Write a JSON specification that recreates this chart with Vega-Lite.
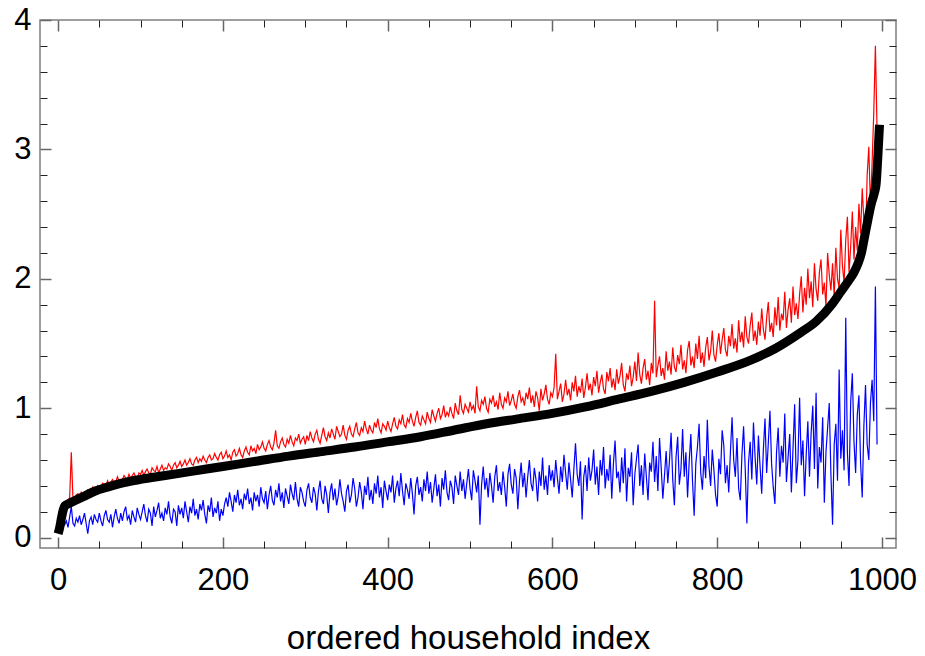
{
  "$schema": "https://vega.github.io/schema/vega-lite/v6.json",
  "width": 856,
  "height": 528,
  "autosize": "none",
  "padding": {"left": 40, "top": 20, "right": 29, "bottom": 108},
  "background": "white",
  "config": {
    "font": "Liberation Sans",
    "view": {"stroke": "#7f7f7f", "strokeWidth": 1.5}
  },
  "datasets": {
    "households": [
      {"i":0,"r":0.05,"b":0.06},{"i":2,"r":0.11,"b":0.11},{"i":4,"r":0.17,"b":0.09},{"i":6,"r":0.24,"b":0.14},{"i":8,"r":0.27,"b":0.10},
      {"i":10,"r":0.26,"b":0.13},{"i":12,"r":0.29,"b":0.08},{"i":14,"r":0.31,"b":0.16},{"i":16,"r":0.66,"b":0.24},{"i":18,"r":0.30,"b":0.11},
      {"i":20,"r":0.29,"b":0.09},{"i":22,"r":0.33,"b":0.15},{"i":24,"r":0.34,"b":0.12},{"i":26,"r":0.30,"b":0.17},{"i":28,"r":0.35,"b":0.10},
      {"i":30,"r":0.33,"b":0.14},{"i":32,"r":0.32,"b":0.19},{"i":34,"r":0.36,"b":0.11},{"i":36,"r":0.37,"b":0.03},{"i":38,"r":0.34,"b":0.13},
      {"i":40,"r":0.35,"b":0.16},{"i":42,"r":0.39,"b":0.10},{"i":44,"r":0.36,"b":0.18},{"i":46,"r":0.37,"b":0.14},{"i":48,"r":0.40,"b":0.12},
      {"i":50,"r":0.38,"b":0.19},{"i":52,"r":0.39,"b":0.13},{"i":54,"r":0.42,"b":0.09},{"i":56,"r":0.41,"b":0.17},{"i":58,"r":0.40,"b":0.21},
      {"i":60,"r":0.44,"b":0.14},{"i":62,"r":0.41,"b":0.12},{"i":64,"r":0.43,"b":0.18},{"i":66,"r":0.45,"b":0.08},{"i":68,"r":0.42,"b":0.16},
      {"i":70,"r":0.43,"b":0.22},{"i":72,"r":0.47,"b":0.15},{"i":74,"r":0.44,"b":0.11},{"i":76,"r":0.43,"b":0.19},{"i":78,"r":0.45,"b":0.13},
      {"i":80,"r":0.48,"b":0.20},{"i":82,"r":0.46,"b":0.24},{"i":84,"r":0.45,"b":0.14},{"i":86,"r":0.49,"b":0.17},{"i":88,"r":0.46,"b":0.10},
      {"i":90,"r":0.48,"b":0.21},{"i":92,"r":0.50,"b":0.16},{"i":94,"r":0.47,"b":0.12},{"i":96,"r":0.46,"b":0.23},{"i":98,"r":0.50,"b":0.18},
      {"i":100,"r":0.49,"b":0.14},{"i":102,"r":0.52,"b":0.20},{"i":104,"r":0.48,"b":0.26},{"i":106,"r":0.51,"b":0.17},{"i":108,"r":0.53,"b":0.12},
      {"i":110,"r":0.50,"b":0.22},{"i":112,"r":0.49,"b":0.19},{"i":114,"r":0.54,"b":0.09},{"i":116,"r":0.52,"b":0.24},{"i":118,"r":0.51,"b":0.16},
      {"i":120,"r":0.55,"b":0.21},{"i":122,"r":0.50,"b":0.27},{"i":124,"r":0.53,"b":0.15},{"i":126,"r":0.56,"b":0.19},{"i":128,"r":0.52,"b":0.13},
      {"i":130,"r":0.54,"b":0.23},{"i":132,"r":0.53,"b":0.18},{"i":134,"r":0.57,"b":0.28},{"i":136,"r":0.55,"b":0.16},{"i":138,"r":0.52,"b":0.11},
      {"i":140,"r":0.56,"b":0.22},{"i":142,"r":0.58,"b":0.20},{"i":144,"r":0.54,"b":0.09},{"i":146,"r":0.56,"b":0.25},{"i":148,"r":0.59,"b":0.18},
      {"i":150,"r":0.55,"b":0.23},{"i":152,"r":0.57,"b":0.15},{"i":154,"r":0.60,"b":0.28},{"i":156,"r":0.56,"b":0.20},{"i":158,"r":0.58,"b":0.12},
      {"i":160,"r":0.61,"b":0.24},{"i":162,"r":0.57,"b":0.19},{"i":164,"r":0.56,"b":0.30},{"i":166,"r":0.60,"b":0.17},{"i":168,"r":0.62,"b":0.22},
      {"i":170,"r":0.58,"b":0.14},{"i":172,"r":0.61,"b":0.26},{"i":174,"r":0.59,"b":0.21},{"i":176,"r":0.63,"b":0.29},{"i":178,"r":0.60,"b":0.18},
      {"i":180,"r":0.58,"b":0.11},{"i":182,"r":0.62,"b":0.25},{"i":184,"r":0.64,"b":0.20},{"i":186,"r":0.60,"b":0.31},{"i":188,"r":0.61,"b":0.16},
      {"i":190,"r":0.65,"b":0.23},{"i":192,"r":0.62,"b":0.19},{"i":194,"r":0.60,"b":0.28},{"i":196,"r":0.64,"b":0.13},{"i":198,"r":0.66,"b":0.22},
      {"i":200,"r":0.61,"b":0.17},{"i":202,"r":0.63,"b":0.26},{"i":204,"r":0.67,"b":0.31},{"i":206,"r":0.62,"b":0.24},{"i":208,"r":0.64,"b":0.35},
      {"i":210,"r":0.60,"b":0.28},{"i":212,"r":0.66,"b":0.20},{"i":214,"r":0.68,"b":0.33},{"i":216,"r":0.63,"b":0.27},{"i":218,"r":0.65,"b":0.37},
      {"i":220,"r":0.69,"b":0.25},{"i":222,"r":0.64,"b":0.30},{"i":224,"r":0.62,"b":0.22},{"i":226,"r":0.67,"b":0.34},{"i":228,"r":0.70,"b":0.29},
      {"i":230,"r":0.66,"b":0.38},{"i":232,"r":0.64,"b":0.26},{"i":234,"r":0.71,"b":0.31},{"i":236,"r":0.67,"b":0.21},{"i":238,"r":0.69,"b":0.35},
      {"i":240,"r":0.65,"b":0.28},{"i":242,"r":0.72,"b":0.33},{"i":244,"r":0.68,"b":0.24},{"i":246,"r":0.70,"b":0.39},{"i":248,"r":0.74,"b":0.30},
      {"i":250,"r":0.69,"b":0.27},{"i":252,"r":0.67,"b":0.36},{"i":254,"r":0.72,"b":0.22},{"i":256,"r":0.75,"b":0.33},{"i":258,"r":0.70,"b":0.40},
      {"i":260,"r":0.68,"b":0.29},{"i":262,"r":0.73,"b":0.25},{"i":264,"r":0.83,"b":0.37},{"i":266,"r":0.71,"b":0.31},{"i":268,"r":0.69,"b":0.42},
      {"i":270,"r":0.74,"b":0.28},{"i":272,"r":0.77,"b":0.35},{"i":274,"r":0.72,"b":0.23},{"i":276,"r":0.70,"b":0.38},{"i":278,"r":0.76,"b":0.32},
      {"i":280,"r":0.73,"b":0.26},{"i":282,"r":0.79,"b":0.41},{"i":284,"r":0.74,"b":0.34},{"i":286,"r":0.71,"b":0.29},{"i":288,"r":0.77,"b":0.43},
      {"i":290,"r":0.75,"b":0.30},{"i":292,"r":0.80,"b":0.24},{"i":294,"r":0.73,"b":0.39},{"i":296,"r":0.76,"b":0.35},{"i":298,"r":0.78,"b":0.28},
      {"i":300,"r":0.72,"b":0.24},{"i":302,"r":0.79,"b":0.37},{"i":304,"r":0.75,"b":0.42},{"i":306,"r":0.82,"b":0.31},{"i":308,"r":0.77,"b":0.27},
      {"i":310,"r":0.74,"b":0.39},{"i":312,"r":0.80,"b":0.34},{"i":314,"r":0.83,"b":0.21},{"i":316,"r":0.76,"b":0.36},{"i":318,"r":0.73,"b":0.44},
      {"i":320,"r":0.79,"b":0.30},{"i":322,"r":0.85,"b":0.26},{"i":324,"r":0.78,"b":0.40},{"i":326,"r":0.75,"b":0.33},{"i":328,"r":0.81,"b":0.19},
      {"i":330,"r":0.77,"b":0.35},{"i":332,"r":0.84,"b":0.42},{"i":334,"r":0.80,"b":0.29},{"i":336,"r":0.76,"b":0.38},{"i":338,"r":0.86,"b":0.25},
      {"i":340,"r":0.82,"b":0.32},{"i":342,"r":0.78,"b":0.45},{"i":344,"r":0.80,"b":0.34},{"i":346,"r":0.87,"b":0.28},{"i":348,"r":0.79,"b":0.20},
      {"i":350,"r":0.76,"b":0.36},{"i":352,"r":0.83,"b":0.41},{"i":354,"r":0.86,"b":0.27},{"i":356,"r":0.80,"b":0.33},{"i":358,"r":0.78,"b":0.46},
      {"i":360,"r":0.84,"b":0.38},{"i":362,"r":0.89,"b":0.24},{"i":364,"r":0.81,"b":0.31},{"i":366,"r":0.79,"b":0.43},{"i":368,"r":0.85,"b":0.35},
      {"i":370,"r":0.82,"b":0.22},{"i":372,"r":0.90,"b":0.40},{"i":374,"r":0.84,"b":0.33},{"i":376,"r":0.80,"b":0.47},{"i":378,"r":0.87,"b":0.29},
      {"i":380,"r":0.83,"b":0.37},{"i":382,"r":0.81,"b":0.26},{"i":384,"r":0.89,"b":0.42},{"i":386,"r":0.85,"b":0.34},{"i":388,"r":0.92,"b":0.48},
      {"i":390,"r":0.84,"b":0.31},{"i":392,"r":0.81,"b":0.39},{"i":394,"r":0.88,"b":0.23},{"i":396,"r":0.86,"b":0.44},{"i":398,"r":0.83,"b":0.36},
      {"i":400,"r":0.90,"b":0.29},{"i":402,"r":0.85,"b":0.41},{"i":404,"r":0.82,"b":0.35},{"i":406,"r":0.88,"b":0.48},{"i":408,"r":0.93,"b":0.27},
      {"i":410,"r":0.86,"b":0.38},{"i":412,"r":0.84,"b":0.44},{"i":414,"r":0.91,"b":0.32},{"i":416,"r":0.88,"b":0.50},{"i":418,"r":0.95,"b":0.36},
      {"i":420,"r":0.87,"b":0.25},{"i":422,"r":0.85,"b":0.42},{"i":424,"r":0.92,"b":0.37},{"i":426,"r":0.89,"b":0.30},{"i":428,"r":0.96,"b":0.46},
      {"i":430,"r":0.90,"b":0.34},{"i":432,"r":0.86,"b":0.18},{"i":434,"r":0.93,"b":0.40},{"i":436,"r":0.98,"b":0.47},{"i":438,"r":0.89,"b":0.33},
      {"i":440,"r":0.87,"b":0.39},{"i":442,"r":0.94,"b":0.28},{"i":444,"r":0.91,"b":0.45},{"i":446,"r":0.88,"b":0.36},{"i":448,"r":0.97,"b":0.51},
      {"i":450,"r":0.92,"b":0.34},{"i":452,"r":0.89,"b":0.43},{"i":454,"r":0.99,"b":0.27},{"i":456,"r":0.94,"b":0.38},{"i":458,"r":0.90,"b":0.49},
      {"i":460,"r":0.96,"b":0.32},{"i":462,"r":1.00,"b":0.41},{"i":464,"r":0.92,"b":0.24},{"i":466,"r":0.95,"b":0.46},{"i":468,"r":1.02,"b":0.37},
      {"i":470,"r":0.93,"b":0.52},{"i":472,"r":0.97,"b":0.35},{"i":474,"r":0.94,"b":0.29},{"i":476,"r":1.01,"b":0.44},{"i":478,"r":0.96,"b":0.39},
      {"i":480,"r":0.92,"b":0.26},{"i":482,"r":1.04,"b":0.48},{"i":484,"r":0.98,"b":0.40},{"i":486,"r":0.95,"b":0.33},{"i":488,"r":1.10,"b":0.51},
      {"i":490,"r":0.99,"b":0.36},{"i":492,"r":0.96,"b":0.45},{"i":494,"r":1.03,"b":0.30},{"i":496,"r":1.00,"b":0.42},{"i":498,"r":0.97,"b":0.53},
      {"i":500,"r":1.05,"b":0.38},{"i":502,"r":0.99,"b":0.29},{"i":504,"r":1.02,"b":0.52},{"i":506,"r":0.96,"b":0.44},{"i":508,"r":1.17,"b":0.35},
      {"i":510,"r":1.01,"b":0.48},{"i":512,"r":0.98,"b":0.10},{"i":514,"r":1.06,"b":0.41},{"i":516,"r":1.03,"b":0.55},{"i":518,"r":1.09,"b":0.37},
      {"i":520,"r":1.00,"b":0.46},{"i":522,"r":0.97,"b":0.31},{"i":524,"r":1.07,"b":0.50},{"i":526,"r":1.04,"b":0.40},{"i":528,"r":1.10,"b":0.27},
      {"i":530,"r":1.01,"b":0.47},{"i":532,"r":1.05,"b":0.56},{"i":534,"r":0.99,"b":0.36},{"i":536,"r":1.12,"b":0.43},{"i":538,"r":1.03,"b":0.33},
      {"i":540,"r":1.00,"b":0.51},{"i":542,"r":1.08,"b":0.39},{"i":544,"r":1.05,"b":0.24},{"i":546,"r":1.13,"b":0.49},{"i":548,"r":1.02,"b":0.57},
      {"i":550,"r":1.06,"b":0.41},{"i":552,"r":1.11,"b":0.34},{"i":554,"r":1.03,"b":0.53},{"i":556,"r":1.00,"b":0.46},{"i":558,"r":1.09,"b":0.22},
      {"i":560,"r":1.14,"b":0.44},{"i":562,"r":1.05,"b":0.58},{"i":564,"r":1.08,"b":0.39},{"i":566,"r":1.02,"b":0.50},{"i":568,"r":1.12,"b":0.31},
      {"i":570,"r":1.07,"b":0.47},{"i":572,"r":1.16,"b":0.60},{"i":574,"r":1.04,"b":0.42},{"i":576,"r":1.10,"b":0.36},{"i":578,"r":1.01,"b":0.54},
      {"i":580,"r":1.13,"b":0.45},{"i":582,"r":1.08,"b":0.28},{"i":584,"r":0.98,"b":0.51},{"i":586,"r":1.15,"b":0.40},{"i":588,"r":1.06,"b":0.62},
      {"i":590,"r":1.11,"b":0.37},{"i":592,"r":1.18,"b":0.48},{"i":594,"r":1.07,"b":0.33},{"i":596,"r":1.03,"b":0.56},{"i":598,"r":1.12,"b":0.44},
      {"i":600,"r":1.09,"b":0.52},{"i":602,"r":1.16,"b":0.39},{"i":604,"r":1.42,"b":0.60},{"i":606,"r":1.07,"b":0.46},{"i":608,"r":1.13,"b":0.34},
      {"i":610,"r":1.19,"b":0.55},{"i":612,"r":1.05,"b":0.43},{"i":614,"r":1.11,"b":0.64},{"i":616,"r":1.22,"b":0.50},{"i":618,"r":1.10,"b":0.37},
      {"i":620,"r":1.15,"b":0.58},{"i":622,"r":1.06,"b":0.45},{"i":624,"r":1.20,"b":0.31},{"i":626,"r":1.13,"b":0.53},{"i":628,"r":1.25,"b":0.73},
      {"i":630,"r":1.09,"b":0.49},{"i":632,"r":1.17,"b":0.40},{"i":634,"r":1.12,"b":0.59},{"i":636,"r":1.23,"b":0.14},{"i":638,"r":1.08,"b":0.47},
      {"i":640,"r":1.16,"b":0.56},{"i":642,"r":1.27,"b":0.36},{"i":644,"r":1.14,"b":0.62},{"i":646,"r":1.19,"b":0.44},{"i":648,"r":1.10,"b":0.52},
      {"i":650,"r":1.24,"b":0.68},{"i":652,"r":1.17,"b":0.41},{"i":654,"r":1.29,"b":0.55},{"i":656,"r":1.12,"b":0.33},{"i":658,"r":1.20,"b":0.60},
      {"i":660,"r":1.26,"b":0.48},{"i":662,"r":1.15,"b":0.70},{"i":664,"r":1.11,"b":0.38},{"i":666,"r":1.28,"b":0.53},{"i":668,"r":1.21,"b":0.44},
      {"i":670,"r":1.31,"b":0.64},{"i":672,"r":1.16,"b":0.30},{"i":674,"r":1.23,"b":0.57},{"i":676,"r":1.14,"b":0.75},{"i":678,"r":1.30,"b":0.46},
      {"i":680,"r":1.19,"b":0.51},{"i":682,"r":1.25,"b":0.35},{"i":684,"r":1.35,"b":0.62},{"i":686,"r":1.18,"b":0.42},{"i":688,"r":1.13,"b":0.69},
      {"i":690,"r":1.27,"b":0.28},{"i":692,"r":1.22,"b":0.54},{"i":694,"r":1.33,"b":0.47},{"i":696,"r":1.17,"b":0.66},{"i":698,"r":1.24,"b":0.25},
      {"i":700,"r":1.36,"b":0.49},{"i":702,"r":1.21,"b":0.61},{"i":704,"r":1.43,"b":0.72},{"i":706,"r":1.26,"b":0.40},{"i":708,"r":1.19,"b":0.56},
      {"i":710,"r":1.31,"b":0.33},{"i":712,"r":1.38,"b":0.65},{"i":714,"r":1.22,"b":0.47},{"i":716,"r":1.29,"b":0.29},{"i":718,"r":1.18,"b":0.58},
      {"i":720,"r":1.35,"b":0.51},{"i":722,"r":1.27,"b":0.74},{"i":724,"r":1.83,"b":0.43},{"i":726,"r":1.24,"b":0.63},{"i":728,"r":1.33,"b":0.36},
      {"i":730,"r":1.40,"b":0.77},{"i":732,"r":1.25,"b":0.54},{"i":734,"r":1.31,"b":0.30},{"i":736,"r":1.22,"b":0.48},{"i":738,"r":1.44,"b":0.67},
      {"i":740,"r":1.29,"b":0.42},{"i":742,"r":1.36,"b":0.59},{"i":744,"r":1.26,"b":0.81},{"i":746,"r":1.47,"b":0.45},{"i":748,"r":1.32,"b":0.25},
      {"i":750,"r":1.28,"b":0.62},{"i":752,"r":1.41,"b":0.78},{"i":754,"r":1.34,"b":0.41},{"i":756,"r":1.49,"b":0.53},{"i":758,"r":1.30,"b":0.84},
      {"i":760,"r":1.37,"b":0.47},{"i":762,"r":1.27,"b":0.66},{"i":764,"r":1.45,"b":0.31},{"i":766,"r":1.52,"b":0.59},{"i":768,"r":1.33,"b":0.80},
      {"i":770,"r":1.40,"b":0.44},{"i":772,"r":1.31,"b":0.17},{"i":774,"r":1.50,"b":0.57},{"i":776,"r":1.38,"b":0.70},{"i":778,"r":1.56,"b":0.88},
      {"i":780,"r":1.35,"b":0.50},{"i":782,"r":1.43,"b":0.37},{"i":784,"r":1.32,"b":0.63},{"i":786,"r":1.47,"b":0.46},{"i":788,"r":1.55,"b":0.91},
      {"i":790,"r":1.37,"b":0.55},{"i":792,"r":1.44,"b":0.40},{"i":794,"r":1.60,"b":0.68},{"i":796,"r":1.41,"b":0.52},{"i":798,"r":1.36,"b":0.33},
      {"i":800,"r":1.49,"b":0.24},{"i":802,"r":1.58,"b":0.61},{"i":804,"r":1.42,"b":0.49},{"i":806,"r":1.53,"b":0.83},{"i":808,"r":1.62,"b":0.71},
      {"i":810,"r":1.45,"b":0.42},{"i":812,"r":1.40,"b":0.56},{"i":814,"r":1.56,"b":0.35},{"i":816,"r":1.48,"b":0.66},{"i":818,"r":1.65,"b":0.93},
      {"i":820,"r":1.46,"b":0.60},{"i":822,"r":1.54,"b":0.47},{"i":824,"r":1.43,"b":0.77},{"i":826,"r":1.68,"b":0.38},{"i":828,"r":1.51,"b":0.29},
      {"i":830,"r":1.59,"b":0.64},{"i":832,"r":1.47,"b":0.86},{"i":834,"r":1.71,"b":0.53},{"i":836,"r":1.55,"b":0.11},{"i":838,"r":1.50,"b":0.58},
      {"i":840,"r":1.64,"b":0.74},{"i":842,"r":1.74,"b":0.45},{"i":844,"r":1.52,"b":0.89},{"i":846,"r":1.60,"b":0.62},{"i":848,"r":1.49,"b":0.41},
      {"i":850,"r":1.67,"b":0.79},{"i":852,"r":1.56,"b":0.55},{"i":854,"r":1.77,"b":0.34},{"i":856,"r":1.61,"b":0.68},{"i":858,"r":1.53,"b":0.92},
      {"i":860,"r":1.70,"b":0.50},{"i":862,"r":1.82,"b":0.73},{"i":864,"r":1.59,"b":0.98},{"i":866,"r":1.66,"b":0.57},{"i":868,"r":1.55,"b":0.39},
      {"i":870,"r":1.78,"b":0.26},{"i":872,"r":1.64,"b":0.66},{"i":874,"r":1.86,"b":0.85},{"i":876,"r":1.60,"b":0.47},{"i":878,"r":1.73,"b":0.71},
      {"i":880,"r":1.68,"b":0.58},{"i":882,"r":1.90,"b":0.96},{"i":884,"r":1.62,"b":0.43},{"i":886,"r":1.76,"b":0.62},{"i":888,"r":1.85,"b":0.80},
      {"i":890,"r":1.66,"b":0.35},{"i":892,"r":1.94,"b":0.69},{"i":894,"r":1.72,"b":1.03},{"i":896,"r":1.81,"b":0.42},{"i":898,"r":1.69,"b":0.60},
      {"i":900,"r":1.88,"b":1.08},{"i":902,"r":2.02,"b":0.56},{"i":904,"r":1.74,"b":0.75},{"i":906,"r":1.93,"b":0.32},{"i":908,"r":1.80,"b":0.64},
      {"i":910,"r":2.08,"b":0.90},{"i":912,"r":1.85,"b":0.47},{"i":914,"r":1.98,"b":0.81},{"i":916,"r":1.78,"b":1.02},{"i":918,"r":2.12,"b":0.53},
      {"i":920,"r":1.92,"b":1.12},{"i":922,"r":1.83,"b":0.38},{"i":924,"r":2.05,"b":0.70},{"i":926,"r":2.15,"b":0.58},{"i":928,"r":1.88,"b":0.93},
      {"i":930,"r":1.97,"b":0.27},{"i":932,"r":1.79,"b":0.66},{"i":934,"r":2.20,"b":0.85},{"i":936,"r":2.03,"b":1.04},{"i":938,"r":1.91,"b":0.49},
      {"i":940,"r":2.12,"b":0.10},{"i":942,"r":1.86,"b":0.72},{"i":944,"r":2.24,"b":0.88},{"i":946,"r":2.00,"b":0.44},{"i":948,"r":1.93,"b":1.30},
      {"i":950,"r":2.38,"b":0.61},{"i":952,"r":2.10,"b":0.83},{"i":954,"r":1.97,"b":0.52},{"i":956,"r":2.30,"b":1.70},{"i":958,"r":2.48,"b":0.66},
      {"i":960,"r":2.05,"b":0.40},{"i":962,"r":2.25,"b":1.05},{"i":964,"r":2.52,"b":1.27},{"i":966,"r":2.15,"b":0.74},{"i":968,"r":2.40,"b":0.50},
      {"i":970,"r":2.22,"b":0.95},{"i":972,"r":2.58,"b":1.10},{"i":974,"r":2.35,"b":0.58},{"i":976,"r":2.70,"b":0.31},{"i":978,"r":2.45,"b":0.86},
      {"i":980,"r":2.30,"b":1.18},{"i":982,"r":2.80,"b":0.72},{"i":984,"r":3.02,"b":0.60},{"i":986,"r":2.55,"b":1.04},{"i":988,"r":2.90,"b":1.22},
      {"i":990,"r":3.28,"b":0.90},{"i":992,"r":3.80,"b":1.94},{"i":994,"r":3.15,"b":0.72}
    ],
    "sorted": [
      {"i":0,"k":0.03},{"i":2,"k":0.08},{"i":4,"k":0.15},{"i":6,"k":0.21},{"i":8,"k":0.245},{"i":12,"k":0.26},{"i":20,"k":0.285},
      {"i":30,"k":0.315},{"i":45,"k":0.36},{"i":60,"k":0.39},{"i":80,"k":0.425},{"i":100,"k":0.45},{"i":130,"k":0.48},{"i":160,"k":0.51},
      {"i":200,"k":0.55},{"i":240,"k":0.59},{"i":280,"k":0.63},{"i":320,"k":0.665},{"i":360,"k":0.70},{"i":400,"k":0.74},{"i":440,"k":0.78},
      {"i":480,"k":0.83},{"i":520,"k":0.88},{"i":560,"k":0.92},{"i":600,"k":0.96},{"i":640,"k":1.01},{"i":680,"k":1.07},{"i":720,"k":1.13},
      {"i":760,"k":1.20},{"i":800,"k":1.28},{"i":840,"k":1.37},{"i":870,"k":1.46},{"i":900,"k":1.58},{"i":920,"k":1.67},{"i":940,"k":1.81},
      {"i":950,"k":1.90},{"i":960,"k":1.99},{"i":966,"k":2.05},{"i":971,"k":2.12},{"i":975,"k":2.20},{"i":979,"k":2.33},{"i":983,"k":2.46},
      {"i":987,"k":2.58},{"i":991,"k":2.67},{"i":993,"k":2.74},{"i":995,"k":2.95},{"i":997,"k":3.19}
    ]
  },
  "layer": [
    {
      "data": {"name": "households"},
      "mark": {"type": "line", "color": "#ff0000", "strokeWidth": 1.2},
      "encoding": {
        "x": {
          "field": "i", "type": "quantitative",
          "scale": {"domain": [-22, 1017], "nice": false, "zero": false},
          "axis": {
            "orient": "bottom",
            "values": [50,100,150,250,300,350,450,500,550,650,700,750,850,900,950],
            "domain": false, "grid": false, "labels": false, "title": null,
            "tickSize": -7, "tickColor": "#222", "tickWidth": 1
          }
        },
        "y": {
          "field": "r", "type": "quantitative",
          "scale": {"domain": [-0.08, 4.0], "nice": false, "zero": false},
          "axis": {
            "orient": "left",
            "values": [0.2,0.4,0.6,0.8,1.2,1.4,1.6,1.8,2.2,2.4,2.6,2.8,3.2,3.4,3.6,3.8],
            "domain": false, "grid": false, "labels": false, "title": null,
            "tickSize": -7, "tickColor": "#222", "tickWidth": 1
          }
        }
      }
    },
    {
      "data": {"name": "households"},
      "mark": {"type": "line", "color": "#0000ff", "strokeWidth": 1.2},
      "encoding": {
        "x": {
          "field": "i", "type": "quantitative",
          "axis": {
            "orient": "top",
            "values": [50,100,150,250,300,350,450,500,550,650,700,750,850,900,950],
            "domain": false, "grid": false, "labels": false, "title": null,
            "tickSize": -7, "tickColor": "#222", "tickWidth": 1
          }
        },
        "y": {
          "field": "b", "type": "quantitative",
          "axis": {
            "orient": "right",
            "values": [0.2,0.4,0.6,0.8,1.2,1.4,1.6,1.8,2.2,2.4,2.6,2.8,3.2,3.4,3.6,3.8],
            "domain": false, "grid": false, "labels": false, "title": null,
            "tickSize": -7, "tickColor": "#222", "tickWidth": 1
          }
        }
      }
    },
    {
      "data": {"name": "sorted"},
      "mark": {"type": "line", "color": "black", "strokeWidth": 9, "interpolate": "monotone", "strokeCap": "butt"},
      "encoding": {
        "x": {
          "field": "i", "type": "quantitative",
          "axis": {
            "orient": "bottom",
            "values": [0,200,400,600,800,1000],
            "format": "d",
            "domain": false, "grid": false,
            "tickSize": -11, "tickColor": "#666", "tickWidth": 1.5,
            "labelFontSize": 31, "labelColor": "black", "labelPadding": 28,
            "labelFlush": false, "labelOverlap": false, "labelBound": false,
            "title": "ordered household index",
            "titleFontSize": 33, "titleFontWeight": "normal", "titleColor": "black",
            "titleBaseline": "alphabetic", "titleY": 100
          }
        },
        "y": {
          "field": "k", "type": "quantitative",
          "axis": {
            "orient": "left",
            "values": [0,1,2,3,4],
            "format": "d",
            "domain": false, "grid": false,
            "tickSize": -11, "tickColor": "#666", "tickWidth": 1.5,
            "labelFontSize": 31, "labelColor": "black", "labelPadding": 20,
            "labelFlush": false, "labelOverlap": false, "labelBound": false,
            "title": null
          }
        }
      }
    },
    {
      "data": {"values": []},
      "mark": {"type": "point"},
      "encoding": {
        "x": {
          "field": "i", "type": "quantitative",
          "axis": {
            "orient": "top",
            "values": [0,200,400,600,800,1000],
            "domain": false, "grid": false, "labels": false, "title": null,
            "tickSize": -11, "tickColor": "#666", "tickWidth": 1.5
          }
        },
        "y": {
          "field": "k", "type": "quantitative",
          "axis": {
            "orient": "right",
            "values": [0,1,2,3,4],
            "domain": false, "grid": false, "labels": false, "title": null,
            "tickSize": -11, "tickColor": "#666", "tickWidth": 1.5
          }
        }
      }
    }
  ],
  "resolve": {"axis": {"x": "independent", "y": "independent"}}
}
